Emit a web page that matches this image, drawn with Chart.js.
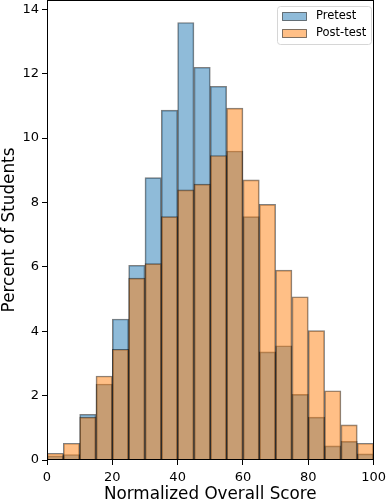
<!DOCTYPE html>
<html>
<head>
<meta charset="utf-8">
<script src="https://cdn.jsdelivr.net/npm/chart.js@4/dist/chart.umd.min.js"></script>
<style>
html,body{margin:0;padding:0;background:#fff;}
#wrap{width:391px;height:500px;}
</style>
</head>
<body>
<div id="wrap"><canvas id="c" width="391" height="500"></canvas></div>
<script>
const binCenters = [2.5, 7.5, 12.5, 17.5, 22.5, 27.5, 32.5, 37.5, 42.5, 47.5, 52.5, 57.5, 62.5, 67.5, 72.5, 77.5, 82.5, 87.5, 92.5, 97.5];
const pretest  = [0.13, 0.17, 1.42, 2.36, 4.38, 6.05, 8.77, 10.87, 13.59, 12.2, 11.61, 9.6, 7.56, 3.36, 3.55, 2.04, 1.33, 0.44, 0.58, 0.19];
const posttest = [0.21, 0.52, 1.33, 2.61, 3.44, 5.65, 6.1, 7.56, 8.39, 8.57, 9.46, 10.93, 8.7, 7.94, 5.9, 5.07, 4.02, 2.15, 1.09, 0.52];
const seriesNames = ['Pretest', 'Post-test'];
const xTickValues = [0, 20, 40, 60, 80, 100];
const yTickValues = [0, 2, 4, 6, 8, 10, 12, 14];

const FONT = 'DejaVu Sans';
const blue = 'rgba(31,119,180,0.5)';
const orange = 'rgba(255,127,14,0.5)';
const edge = 'rgba(0,0,0,0.5)';

const frameLegend = {
  id: 'frameLegend',
  afterDraw(chart) {
    const {ctx, chartArea: a} = chart;
    ctx.save();
    ctx.strokeStyle = '#000';
    ctx.lineWidth = 1;
    ctx.strokeRect(Math.round(a.left) + 0.5, Math.round(a.top) + 0.5, Math.round(a.right - a.left) - 1, Math.round(a.bottom - a.top) - 1);
    // legend
    const bx = 277.5, by = 6.5, bw = 94, bh = 38;
    ctx.fillStyle = 'rgba(255,255,255,0.8)';
    ctx.strokeStyle = '#d6d6d6';
    ctx.beginPath();
    ctx.roundRect(bx, by, bw, bh, 3);
    ctx.fill();
    ctx.stroke();
    const cols = [blue, orange];
    const ys = [12, 29];
    ctx.font = '11.5px "' + FONT + '"';
    ctx.textBaseline = 'middle';
    for (let i = 0; i < 2; i++) {
      ctx.fillStyle = '#fff';
      ctx.fillRect(282.5, ys[i] + 0.5, 24, 8);
      ctx.fillStyle = cols[i];
      ctx.fillRect(282.5, ys[i] + 0.5, 24, 8);
      ctx.strokeStyle = edge;
      ctx.strokeRect(282.5, ys[i] + 0.5, 24, 8);
      ctx.fillStyle = '#000';
      ctx.fillText(seriesNames[i], 316, ys[i] + 4.5);
    }
    ctx.restore();
  }
};

new Chart(document.getElementById('c'), {
  type: 'bar',
  data: {
    datasets: [
      {
        label: seriesNames[0],
        data: binCenters.map((x, i) => ({x: x, y: pretest[i]})),
        backgroundColor: blue,
        borderColor: edge,
        borderWidth: 1,
        barPercentage: 1,
        categoryPercentage: 1,
        order: 2
      },
      {
        label: seriesNames[1],
        data: binCenters.map((x, i) => ({x: x, y: posttest[i]})),
        backgroundColor: orange,
        borderColor: edge,
        borderWidth: 1,
        barPercentage: 1,
        categoryPercentage: 1,
        order: 1
      }
    ]
  },
  options: {
    responsive: false,
    animation: false,
    devicePixelRatio: 1,
    layout: {padding: 0},
    plugins: {legend: {display: false}, tooltip: {enabled: false}},
    datasets: {bar: {grouped: false}},
    scales: {
      x: {
        type: 'linear',
        offset: false,
        min: 0, max: 100,
        afterBuildTicks: s => { s.ticks = xTickValues.map(v => ({value: v})); },
        afterFit: s => { s.height = 40; },
        grid: {display: true, drawOnChartArea: false, drawTicks: true, tickLength: 5, color: '#000', offset: false},
        border: {display: false},
        ticks: {color: '#000', font: {family: FONT, size: 13}, padding: 5, maxRotation: 0},
        title: {display: true, text: 'Normalized Overall Score', color: '#000', font: {family: FONT, size: 16.8}, padding: {top: 0, bottom: -5}}
      },
      y: {
        min: 0, max: 14.29,
        afterBuildTicks: s => { s.ticks = yTickValues.map(v => ({value: v})); },
        afterFit: s => { s.width = 47; s.paddingTop = 0; s.paddingBottom = 0; },
        grid: {display: true, drawOnChartArea: false, drawTicks: true, tickLength: 5, color: '#000'},
        border: {display: false},
        ticks: {color: '#000', font: {family: FONT, size: 13}, padding: 3},
        title: {display: true, text: 'Percent of Students', color: '#000', font: {family: FONT, size: 16.8}, padding: {top: 0, bottom: 0}}
      },
      yRight: {
        position: 'right',
        display: true,
        afterFit: s => { s.width = 8.3; s.paddingTop = 0; s.paddingBottom = 0; },
        grid: {display: false},
        border: {display: false},
        ticks: {display: false}
      }
    }
  },
  plugins: [frameLegend]
});
</script>
</body>
</html>
